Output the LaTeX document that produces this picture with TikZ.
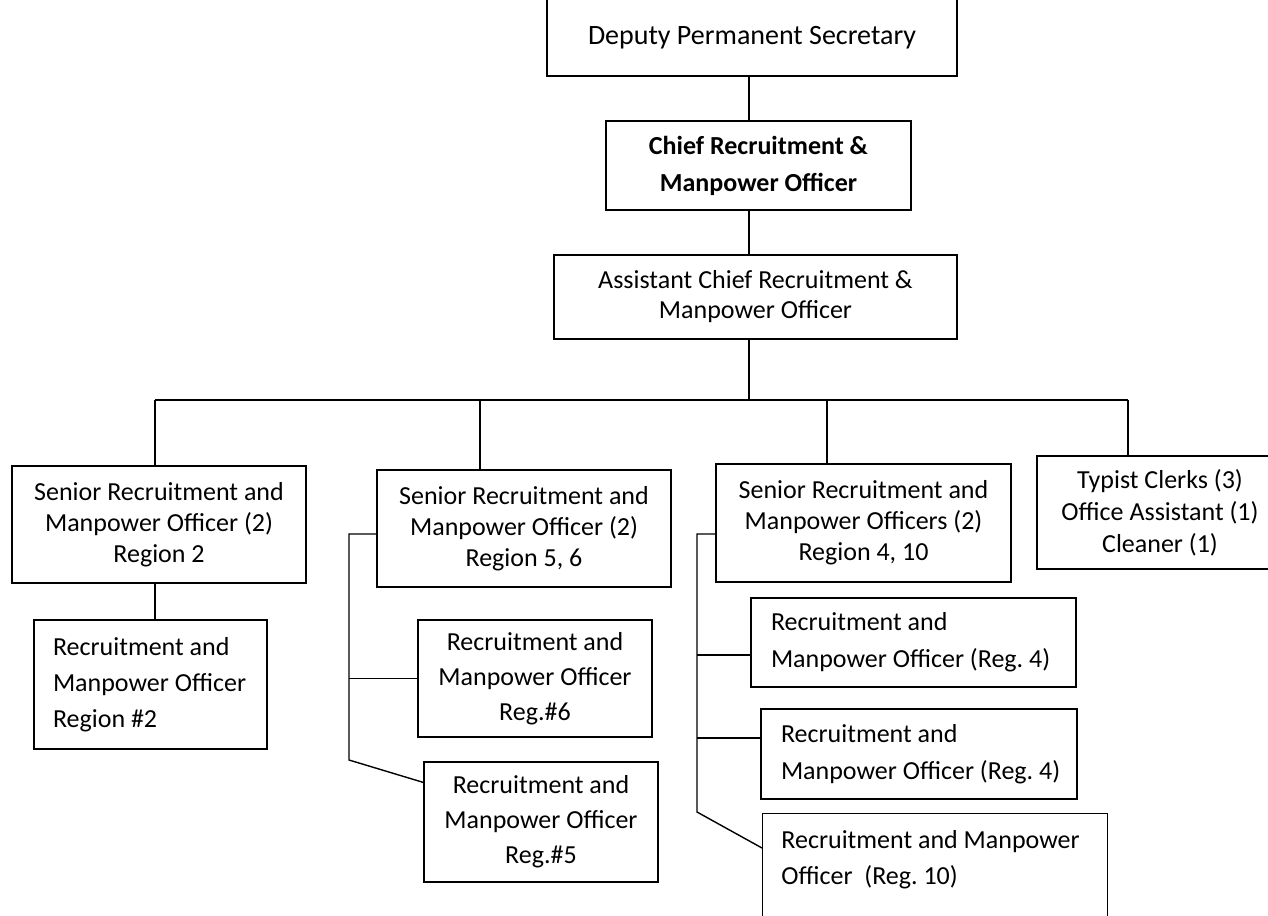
\documentclass[tikz,border=0pt]{standalone}
\usepackage{fontspec}
\setmainfont{Carlito}
\usetikzlibrary{calc}
\begin{document}
\frenchspacing
\begin{tikzpicture}[x=0.5pt,y=-0.5pt,
  chartfont/.style={font=\fontsize{13}{15.5}\selectfont},
  box/.style={draw, line width=0.55pt, inner sep=0pt, align=center, chartfont},
  leftbox/.style={box, align=flush left, inner xsep=#1},
  link/.style={line width=0.7pt}]
\useasboundingbox (0,0) rectangle (1268,915);

% top of the chain
\node[box, minimum width=205pt, minimum height=38.5pt, font=\fontsize{14}{16}\selectfont] (dps) at (752,37.5) {Deputy Permanent Secretary};
\node[box, minimum width=152.5pt, minimum height=44.5pt, font=\fontsize{13}{15.5}\selectfont\bfseries] (crmo) at (758.5,165.5)
  {Chief Recruitment \&\\[3pt] Manpower Officer};
\node[box, minimum width=201.5pt, minimum height=42pt] (acrmo) at (755.5,297)
  {Assistant Chief Recruitment \&\\[-0.5pt] Manpower Officer};

% second level
\node[box, minimum width=147pt, minimum height=58.5pt] (sr2) at (159,524.5)
  {Senior Recruitment and\\ Manpower Officer (2)\\ Region 2};
\node[box, minimum width=147pt, minimum height=58.5pt] (sr56) at (524,528.5)
  {Senior Recruitment and\\ Manpower Officer (2)\\ Region 5, 6};
\node[box, minimum width=147.5pt, minimum height=59pt] (sr410) at (863.5,523)
  {Senior Recruitment and\\ Manpower Officers (2)\\ Region 4, 10};
\node[box, minimum width=123pt, minimum height=56.5pt] (typ) at (1160,512.5)
  {Typist Clerks (3)\\[0.5pt] Office Assistant (1)\\[0.5pt] Cleaner (1)};

% region officers
\node[leftbox=9.5pt, text width=97.5pt, minimum height=64.5pt] (rmo2) at (150.5,684.5)
  {\mbox{Recruitment and}\\[2.5pt] \mbox{Manpower Officer}\\[2.5pt] \mbox{Region \#2}};
\node[box, minimum width=117pt, minimum height=58.5pt] (rmo6) at (535,678.5)
  {Recruitment and\\[2pt] Manpower Officer\\[2pt] Reg.\#6};
\node[box, minimum width=117pt, minimum height=60pt] (rmo5) at (541,822)
  {Recruitment and\\[2pt] Manpower Officer\\[2pt] Reg.\#5};
\node[leftbox=10pt, text width=142.5pt, minimum height=44.5pt] (rmoA) at (913.5,642.5)
  {\mbox{Recruitment and}\\[3pt] \mbox{Manpower Officer (Reg. 4)}};
\node[leftbox=10pt, text width=138pt, minimum height=45pt] (rmoB) at (919,754)
  {\mbox{Recruitment and}\\[3pt] \mbox{Manpower Officer (Reg. 4)}};
\node[box, minimum width=172.5pt, minimum height=62pt, anchor=north west,
  label={[anchor=north west, align=flush left, inner sep=0pt, xshift=9.5pt, yshift=-8.5pt,
    chartfont]north west:Recruitment and Manpower\\[2.5pt] Officer\ \ (Reg. 10)}]
  (rmoC) at (762,813) {};

% connectors
\coordinate (trunk) at (749,0);
\coordinate (busL) at (155,400);
\coordinate (busR) at (1128,400);
\coordinate (d56) at (480,400);
\coordinate (d410) at (827,400);
\draw[link] (dps.south -| trunk) -- (crmo.north -| trunk);
\draw[link] (crmo.south -| trunk) -- (acrmo.north -| trunk);
\draw[link] (acrmo.south -| trunk) -- (trunk |- busL);
\draw[link] (busL) -- (busR);
\draw[link] (busL) -- (busL |- sr2.north);
\draw[link] (d56) -- (d56 |- sr56.north);
\draw[link] (d410) -- (d410 |- sr410.north);
\draw[link] (busR) -- (busR |- typ.north);
\draw[link] (sr2.south -| busL) -- (rmo2.north -| busL);

% region 5, 6 spine
\coordinate (s56top) at (349,534);
\coordinate (s56bot) at (349,760);
\draw[link] (sr56.west |- s56top) -- (s56top) -- (s56bot) -- ($(rmo5.north west)+(0,21)$);
\draw[link] (s56top |- rmo6.west) -- (rmo6.west);

% region 4, 10 spine
\coordinate (s410top) at (697,534);
\coordinate (s410bot) at (697,812);
\coordinate (jA) at (697,655);
\coordinate (jB) at (697,738);
\draw[link] (sr410.west |- s410top) -- (s410top) -- (s410bot) -- ($(rmoC.north west)+(0,35)$);
\draw[link] (jA) -- (rmoA.west |- jA);
\draw[link] (jB) -- (rmoB.west |- jB);
\end{tikzpicture}
\end{document}
